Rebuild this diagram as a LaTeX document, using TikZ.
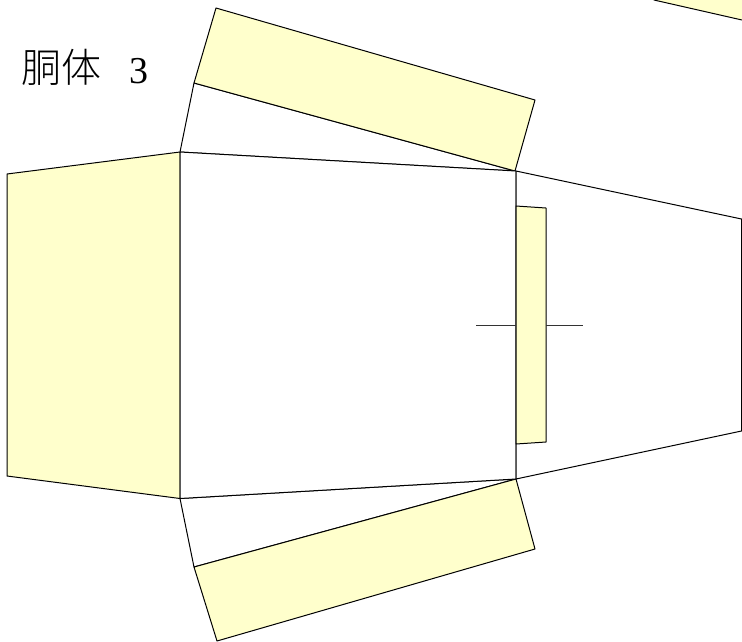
\documentclass[tikz,border=0pt]{standalone}
\usepackage{fontspec}
\newfontfamily\cjk{Noto Sans CJK JP Light}
\newfontfamily\numf{Liberation Serif}
\definecolor{paleyellow}{HTML}{FFFFCC}
\tikzset{
  yellowface/.style={draw=black,fill=paleyellow,line width=1pt,line join=round},
  whiteface/.style={draw=black,fill=white,line width=1pt,line join=round},
  guide/.style={draw=black!80,line width=1pt}
}
\begin{document}
\begin{tikzpicture}[x=1pt,y=-1pt]
\useasboundingbox (0,0) rectangle (742,641);
% top-right tab, cut by the page edge
\begin{scope}
\clip (0,0) rectangle (742,641);
\draw[yellowface] (654,0) -- (742,20) -- (780,-20) -- (654,-20) -- cycle;
\end{scope}
% left yellow flap
\draw[yellowface] (7,174) -- (180,152) -- (180,498.5) -- (7,476) -- cycle;
% top band
\draw[whiteface] (180,152) -- (194,83) -- (515,171) -- cycle;
\draw[yellowface] (216,8) -- (535,100) -- (515,171) -- (194,83) -- cycle;
% bottom band
\draw[whiteface] (180,498.5) -- (194,567) -- (516,479) -- cycle;
\draw[yellowface] (194,567) -- (516,479) -- (535,549) -- (217,641) -- cycle;
% main faces
\draw[whiteface] (180,152) -- (516,171) -- (516,479) -- (180,498.5) -- cycle;
\draw[whiteface] (516,171) -- (741.5,219) -- (741.5,431) -- (516,479) -- cycle;
% inner tab and cross mark
\draw[yellowface] (516,206) -- (546,208) -- (546,442) -- (516,444) -- cycle;
\draw[guide] (476,325) -- (516,325);
\draw[guide] (546,325) -- (583,325);
% title
\node[anchor=base west,inner sep=0pt,font=\cjk\fontsize{40}{40}\selectfont] (title) at (21.5,82) {胴体};
\node[anchor=base west,inner sep=0pt,font=\numf\fontsize{38}{38}\selectfont] (num) at (129,83) {3};
\end{tikzpicture}
\end{document}
